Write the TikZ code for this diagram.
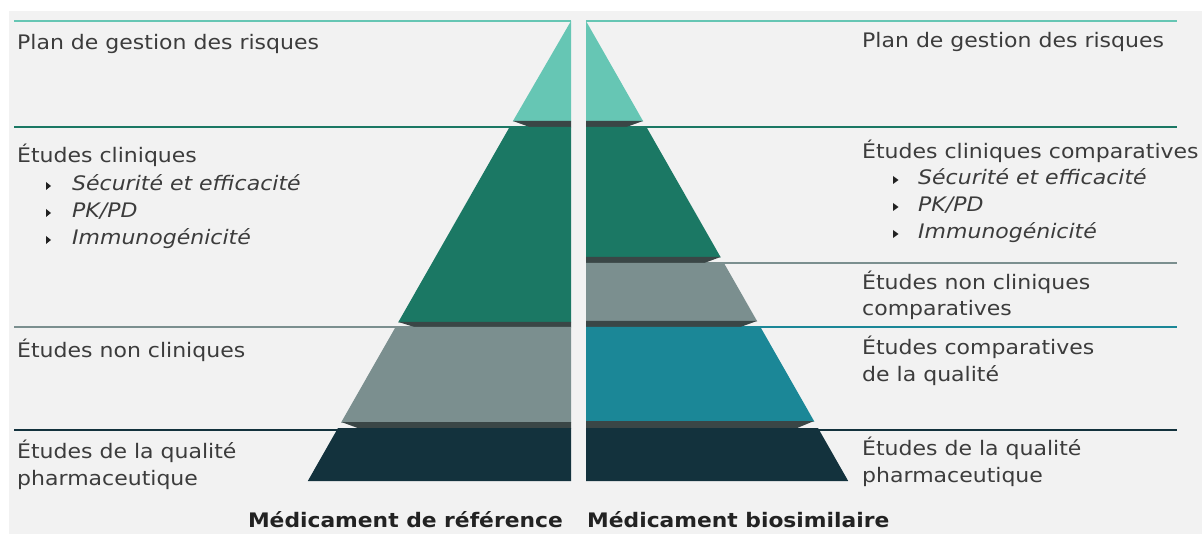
\documentclass[tikz,border=0pt]{standalone}
\usepackage{fontspec}
\setmainfont[FakeStretch=1.10,BoldFeatures={FakeStretch=1.09}]{DejaVu Sans}
\definecolor{bg}{HTML}{F2F2F2}
\definecolor{cA}{HTML}{66C6B4}
\definecolor{cB}{HTML}{1B7864}
\definecolor{cC}{HTML}{7B8F8F}
\definecolor{cD}{HTML}{1B8797}
\definecolor{cE}{HTML}{13323D}
\definecolor{shadowc}{HTML}{3A4646}
\definecolor{txt}{HTML}{3C3C3C}
\definecolor{btxt}{HTML}{222222}
\begin{document}
\begin{tikzpicture}[x=1pt,y=-1pt,
  sepline/.style={line width=2pt},
  shadowband/.style={fill=shadowc},
  lbl/.style={anchor=base west,inner sep=0pt,text=txt,font=\fontsize{20}{27}\selectfont},
  ilbl/.style={lbl,font=\fontsize{20}{27}\selectfont\itshape},
  blbl/.style={inner sep=0pt,text=btxt,font=\fontsize{20}{27}\selectfont\bfseries},
  bul/.style={fill=btxt}]
\useasboundingbox (0,0) rectangle (1202,534);
\fill[white] (0,0) rectangle (1202,534);
\fill[bg] (9,11) rectangle (1202,534);
% separator lines, left
\draw[sepline,cA] (14,21) -- (571,21);
\draw[sepline,cB] (14,127) -- (571,127);
\draw[sepline,cC] (14,327) -- (571,327);
\draw[sepline,cE] (14,430) -- (571,430);
% separator lines, right
\draw[sepline,cA] (586,21) -- (1177,21);
\draw[sepline,cB] (586,127) -- (1177,127);
\draw[sepline,cC] (586,263) -- (1177,263);
\draw[sepline,cD] (586,327) -- (1177,327);
\draw[sepline,cE] (586,430) -- (1177,430);
% left pyramid
\fill[cA] (571,21) -- (571,121.5) -- (512.7,121.5) -- cycle;
\fill[shadowband] (513,121) -- (571,121) -- (571,127.5) -- (531,127.5) -- cycle;
\fill[cB] (571,127) -- (571,322.5) -- (398.1,322.5) -- (509.6,127) -- cycle;
\fill[shadowband] (398.4,322) -- (571,322) -- (571,327.5) -- (416,327.5) -- cycle;
\fill[cC] (571,327) -- (571,422.5) -- (341.1,422.5) -- (395.6,327) -- cycle;
\fill[shadowband] (341.4,422) -- (571,422) -- (571,428.5) -- (359,428.5) -- cycle;
\fill[cE] (571,428) -- (571,481) -- (307.8,481) -- (338,428) -- cycle;
% right pyramid
\fill[cA] (586,21) -- (586,121.5) -- (643.3,121.5) -- cycle;
\fill[shadowband] (643,121) -- (586,121) -- (586,127.5) -- (625,127.5) -- cycle;
\fill[cB] (586,127) -- (586,257.5) -- (720.8,257.5) -- (646.4,127) -- cycle;
\fill[shadowband] (720.5,257) -- (586,257) -- (586,263.5) -- (703,263.5) -- cycle;
\fill[cC] (586,263) -- (586,321.5) -- (757.3,321.5) -- (723.9,263) -- cycle;
\fill[shadowband] (757,321) -- (586,321) -- (586,327.5) -- (739,327.5) -- cycle;
\fill[cD] (586,327) -- (586,421.5) -- (814.3,421.5) -- (760.4,327) -- cycle;
\fill[shadowband] (814,421) -- (586,421) -- (586,428.5) -- (796,428.5) -- cycle;
\fill[cE] (586,428) -- (586,481) -- (848.2,481) -- (818,428) -- cycle;
% left texts
\node[lbl] (l1) at (17,50) {Plan de gestion des risques};
\node[lbl] (l2) at (17,163) {Études cliniques};
\node[ilbl] (l2a) at (72,191) {Sécurité et efficacité};
\node[ilbl] (l2b) at (72,218) {PK/PD};
\node[ilbl] (l2c) at (72,245) {Immunogénicité};
\node[lbl] (l3) at (17,358) {Études non cliniques};
\node[lbl] (l4) at (17,458) {Études de la qualité};
\node[lbl] (l4b) at (17,485) {pharmaceutique};
\fill[bul] (46,182) -- (46,190) -- (51,186) -- cycle;
\fill[bul] (46,209) -- (46,217) -- (51,213) -- cycle;
\fill[bul] (46,236) -- (46,244) -- (51,240) -- cycle;
% right texts
\node[lbl] (r1) at (862,48) {Plan de gestion des risques};
\node[lbl] (r2) at (862,159) {Études cliniques comparatives};
\node[ilbl] (r2a) at (918,185) {Sécurité et efficacité};
\node[ilbl] (r2b) at (918,212) {PK/PD};
\node[ilbl] (r2c) at (918,239) {Immunogénicité};
\node[lbl] (r3) at (862,290) {Études non cliniques};
\node[lbl] (r3b) at (862,316) {comparatives};
\node[lbl] (r4) at (862,355) {Études comparatives};
\node[lbl] (r4b) at (862,382) {de la qualité};
\node[lbl] (r5) at (862,455) {Études de la qualité};
\node[lbl] (r5b) at (862,482) {pharmaceutique};
\fill[bul] (893,176) -- (893,184) -- (898.5,180) -- cycle;
\fill[bul] (893,203) -- (893,211) -- (898.5,207) -- cycle;
\fill[bul] (893,230) -- (893,238) -- (898.5,234) -- cycle;
% bottom captions
\node[blbl,anchor=base east] (capL) at (563,527) {Médicament de référence};
\node[blbl,anchor=base west] (capR) at (587,527) {Médicament biosimilaire};
\end{tikzpicture}
\end{document}
